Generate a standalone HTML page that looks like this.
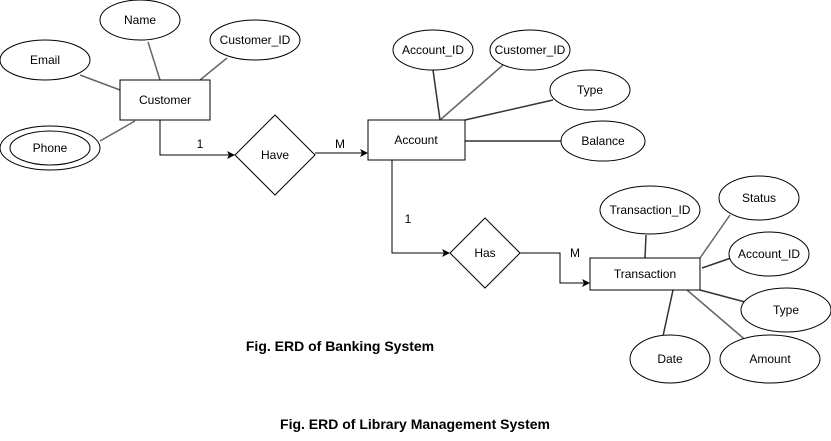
<!DOCTYPE html>
<html><head><meta charset="utf-8"><style>
html,body{margin:0;padding:0;background:#fff;width:831px;height:441px;overflow:hidden}
svg text{font-family:"Liberation Sans",Arial,sans-serif;font-size:12px;fill:#000}
</style></head><body>
<svg width="831" height="441" viewBox="0 0 831 441" xmlns="http://www.w3.org/2000/svg">
<defs><marker id="a" markerWidth="8" markerHeight="8" refX="7" refY="4" orient="auto" markerUnits="userSpaceOnUse"><path d="M0,0 L8,4 L0,8 L2,4 z" fill="#000"/></marker></defs>
<g stroke="#666" stroke-width="1.5" fill="none">
<line x1="80" y1="75" x2="120" y2="90"/>
<line x1="148" y1="42" x2="160" y2="80"/>
<line x1="227" y1="58" x2="200" y2="80"/>
<line x1="100" y1="141" x2="135" y2="121"/>
<line x1="433" y1="70" x2="440" y2="120" stroke="#333"/>
<line x1="503" y1="65" x2="440" y2="120"/>
<line x1="553" y1="100" x2="465" y2="120" stroke="#333"/>
<line x1="465" y1="141" x2="561" y2="141" stroke="#333"/>
<line x1="646" y1="235" x2="645" y2="258" stroke="#333"/>
<line x1="700" y1="258" x2="730" y2="215"/>
<line x1="702" y1="268" x2="731" y2="258" stroke="#333"/>
<line x1="700" y1="290" x2="745" y2="302" stroke="#333"/>
<line x1="687" y1="290" x2="749" y2="343"/>
<line x1="673" y1="290" x2="663" y2="336" stroke="#333"/>
</g>
<g stroke="#000" stroke-width="1" fill="none">
<polyline points="160,120 160,155 234,155" marker-end="url(#a)"/>
<line x1="315" y1="153" x2="367" y2="153" marker-end="url(#a)"/>
<polyline points="392,160 392,253 449,253" marker-end="url(#a)"/>
<polyline points="520,253 560,253 560,283 589,283" marker-end="url(#a)"/>
</g>
<g stroke="#000" stroke-width="1" fill="#fff">
<rect x="120" y="80" width="90" height="40"/>
<rect x="368" y="120" width="97" height="40"/>
<rect x="590" y="258" width="110" height="32"/>
<polygon points="275,115 315,155 275,195 235,155"/>
<polygon points="485,218 520,253 485,288 450,253"/>
<ellipse cx="140" cy="20" rx="40" ry="20"/>
<ellipse cx="255" cy="40" rx="45" ry="20"/>
<ellipse cx="45" cy="60" rx="45" ry="20"/>
<ellipse cx="50" cy="148" rx="50" ry="22"/>
<ellipse cx="50" cy="148" rx="40" ry="17"/>
<ellipse cx="433" cy="50" rx="40" ry="20"/>
<ellipse cx="530" cy="50" rx="40" ry="20"/>
<ellipse cx="590" cy="90" rx="40" ry="20"/>
<ellipse cx="603" cy="141" rx="42" ry="20"/>
<ellipse cx="650" cy="210" rx="50" ry="24"/>
<ellipse cx="759" cy="198" rx="40" ry="22"/>
<ellipse cx="769" cy="254" rx="40" ry="22"/>
<ellipse cx="786" cy="310" rx="45" ry="22"/>
<ellipse cx="770" cy="359" rx="50" ry="24"/>
<ellipse cx="670" cy="359" rx="40" ry="24"/>
</g>
<g text-anchor="middle">
<text x="165" y="104">Customer</text>
<text x="416" y="144">Account</text>
<text x="645" y="278">Transaction</text>
<text x="275" y="159">Have</text>
<text x="485" y="257">Has</text>
<text x="140" y="24">Name</text>
<text x="255" y="44">Customer_ID</text>
<text x="45" y="64">Email</text>
<text x="50" y="152">Phone</text>
<text x="433" y="54">Account_ID</text>
<text x="530" y="54">Customer_ID</text>
<text x="590" y="94">Type</text>
<text x="603" y="145">Balance</text>
<text x="650" y="214">Transaction_ID</text>
<text x="759" y="202">Status</text>
<text x="769" y="258">Account_ID</text>
<text x="786" y="314">Type</text>
<text x="770" y="363">Amount</text>
<text x="670" y="363">Date</text>
<text x="200" y="148">1</text>
<text x="340" y="148">M</text>
<text x="408" y="223">1</text>
<text x="575" y="257">M</text>
<text x="340" y="351" font-weight="bold" style="font-size:14px">Fig. ERD of Banking System</text>
<text x="415" y="429" font-weight="bold" style="font-size:14px">Fig. ERD of Library Management System</text>
</g>
</svg>
</body></html>
